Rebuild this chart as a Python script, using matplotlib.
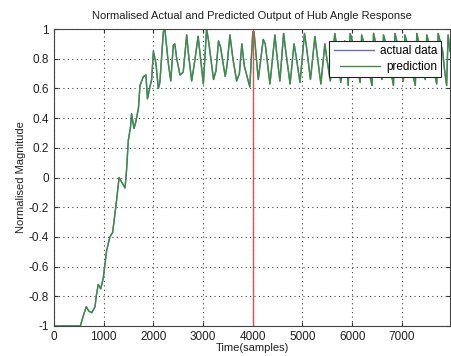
import matplotlib
matplotlib.use('Agg')
import matplotlib.pyplot as plt

# Samples and normalised magnitude
samples = [0, 530, 590, 650, 700, 760, 825, 850, 890, 940, 990, 1060, 1125, 1180,
           1260, 1310, 1360, 1430, 1460, 1495, 1540, 1560, 1610, 1650, 1700, 1730,
           1800, 1850, 1880, 1930, 1965, 2000, 2050, 2100, 2130,
           2200, 2230, 2300, 2350, 2400, 2430, 2470, 2535, 2600, 2670, 2700, 2770,
           2830, 2900, 2950, 3005, 3070, 3110, 3210, 3260, 3310, 3350, 3445, 3480,
           3540, 3600, 3675, 3730, 3780, 3830, 3940, 4000,
           4025, 4060, 4110, 4210, 4250, 4345, 4445, 4480, 4545, 4620, 4660, 4750,
           4830, 4870, 4950, 5040, 5080, 5160, 5250, 5290, 5370, 5450, 5490, 5560,
           5650, 5700, 5770, 5850, 5890, 5920, 5960, 6060, 6100, 6160, 6190, 6290,
           6330, 6400, 6430, 6510, 6550, 6600, 6630, 6730, 6770, 6830, 6860, 6940,
           6980, 7030, 7060, 7160, 7200, 7270, 7300, 7380, 7420, 7470, 7500, 7600,
           7640, 7700, 7730, 7820, 7860, 7900, 7930, 7968]
prediction = [-1.0, -1.0, -0.93, -0.87, -0.9, -0.91, -0.87, -0.8, -0.72, -0.75, -0.68, -0.49, -0.4, -0.37,
              -0.15, 0.0, -0.03, -0.07, 0.05, 0.25, 0.34, 0.43, 0.33, 0.38, 0.47, 0.62,
              0.68, 0.69, 0.53, 0.61, 0.66, 0.85, 0.77, 0.6, 0.64,
              0.98, 1.0, 0.77, 0.65, 0.89, 0.9, 0.8, 0.69, 0.71, 0.96, 0.85, 0.65,
              0.78, 0.95, 0.8, 0.63, 1.0, 0.92, 0.66, 0.72, 0.92, 0.88, 0.68, 0.75,
              0.96, 0.8, 0.65, 0.7, 0.9, 0.75, 0.61, 0.98,
              0.98, 0.85, 0.66, 0.93, 0.9, 0.63, 0.96, 0.84, 0.65, 0.97, 0.86, 0.63,
              0.9, 0.82, 0.64, 0.97, 0.88, 0.66, 0.95, 0.84, 0.63, 0.9, 0.8, 0.65,
              0.97, 0.86, 0.64, 0.92, 0.8, 0.62, 0.97, 0.85, 0.75, 0.64, 0.96, 0.84,
              0.72, 0.62, 0.97, 0.85, 0.74, 0.66, 0.96, 0.84, 0.73, 0.62, 0.97, 0.86,
              0.74, 0.65, 0.96, 0.84, 0.72, 0.62, 0.97, 0.85, 0.74, 0.66, 0.96, 0.84,
              0.73, 0.63, 0.97, 0.85, 0.72, 0.62, 0.96, 0.85]
actual_data = list(prediction)  # hidden under the prediction trace

split_sample = 4000
x_ticks = [0, 1000, 2000, 3000, 4000, 5000, 6000, 7000]
y_ticks = [-1, -0.8, -0.6, -0.4, -0.2, 0, 0.2, 0.4, 0.6, 0.8, 1]
y_ticklabels = ['-1', '-0.8', '-0.6', '-0.4', '-0.2', '0', '0.2', '0.4', '0.6', '0.8', '1']

plt.rcParams['font.family'] = ['Liberation Sans', 'DejaVu Sans']

fig = plt.figure(figsize=(4.51, 3.56), dpi=100)
ax = fig.add_axes([54 / 451, 1 - 326 / 356, 396 / 451, 297 / 356])

ax.plot(samples, actual_data, color='#7070b8', linewidth=1.0, label='actual data')
ax.plot(samples, prediction, color='#3a8f42', linewidth=1.0, label='prediction')
ax.axvline(split_sample, color='#d9534f', linewidth=1.0)

ax.set_xlim(0, 7968)
ax.set_ylim(-1, 1)
ax.set_xticks(x_ticks)
ax.set_yticks(y_ticks)
ax.set_yticklabels(y_ticklabels)
ax.tick_params(direction='in', top=True, right=True, labelsize=8.5, length=3,
               colors='#333333', labelcolor='#222222')
ax.grid(True, linestyle=(0, (1, 3)), color='#444444', linewidth=0.8)
for s in ax.spines.values():
    s.set_color('#444444')
    s.set_linewidth(0.8)

ax.set_title('Normalised Actual and Predicted Output of Hub Angle Response', fontsize=8, color='#222222', pad=7)
ax.set_xlabel('Time(samples)', fontsize=8, color='#222222', labelpad=0)
ax.set_ylabel('Normalised Magnitude', fontsize=8, color='#222222', labelpad=2)

leg = ax.legend(loc='upper right', bbox_to_anchor=(0.9924, 0.98), fontsize=8.5,
                fancybox=False, framealpha=1, edgecolor='#222222', handlelength=3.4,
                borderpad=0.35, labelspacing=0.35, handletextpad=0.5)
leg.get_frame().set_linewidth(0.8)
# MATLAB-style legend: entries right-aligned
for col in leg._legend_handle_box.get_children():
    col.align = 'right'

fig.savefig('out.png', dpi=100)
